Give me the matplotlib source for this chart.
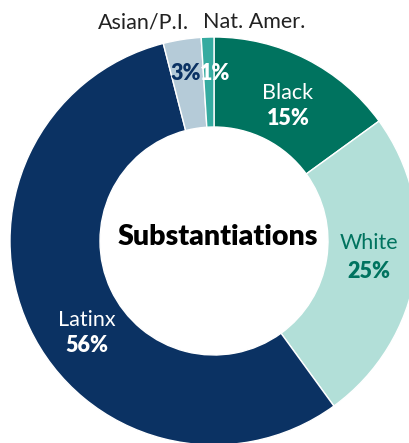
import matplotlib.pyplot as plt

# donut slices, clockwise from the top
groups = ['Black', 'White', 'Latinx', 'Asian/P.I.', 'Nat. Amer.']
shares = [15, 25, 56, 3, 1]
colors = ['#00735f', '#b2dfd8', '#0b3263', '#b5cbd8', '#35aba0']

plt.rcParams['font.family'] = ['Lato', 'DejaVu Sans']

fig = plt.figure(figsize=(4.09, 4.43), dpi=100)
ax = fig.add_axes([0, 0, 1, 1])
H = 443

ax.pie(shares, colors=colors, startangle=90, counterclock=False,
       center=(214, H - 241), radius=204, frame=True,
       wedgeprops=dict(width=90, edgecolor='white', linewidth=1))
ax.set_xlim(0, 409)
ax.set_ylim(0, H)
ax.axis('off')

def lab(x, y, s, c, bold=False, size=15.5):
    ax.text(x, H - y, s, color=c, fontsize=size, ha='center', va='center',
            fontweight='heavy' if bold else 'normal')

lab(218, 237, 'Substantiations', 'black', True, 20.5)
lab(143, 22, 'Asian/P.I.', '#222222')
lab(254, 22, 'Nat. Amer.', '#222222')
lab(186, 73, '3%', '#0b3263', True)
lab(215, 73, '1%', 'white', True)
lab(288, 93, 'Black', 'white')
lab(288, 118, '15%', 'white', True)
lab(369, 243, 'White', '#00735f')
lab(369, 272, '25%', '#00735f', True)
lab(87, 320, 'Latinx', 'white')
lab(87, 345, '56%', 'white', True)

fig.savefig('out.png', dpi=100)
